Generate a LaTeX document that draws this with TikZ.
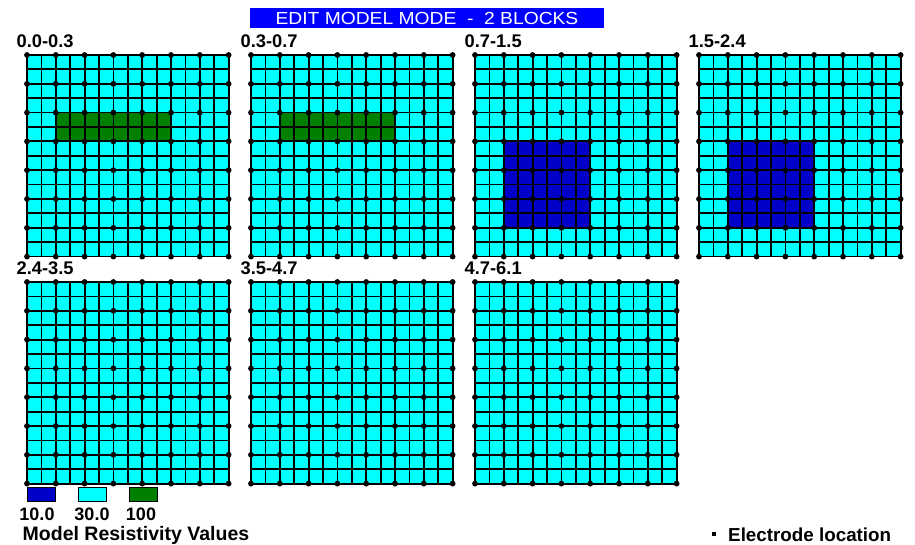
\documentclass[tikz,border=0pt]{standalone}
\usepackage{fontspec}
\setmainfont{Liberation Sans}
\definecolor{cellcyan}{RGB}{0,255,255}
\definecolor{blockgreen}{RGB}{0,128,0}
\definecolor{blockblue}{RGB}{0,0,200}
\definecolor{titleblue}{RGB}{0,0,255}
\tikzset{
  gridline/.style={black, line width=1.8pt, line cap=rect},
  paneltitle/.style={anchor=base west, inner sep=0pt, font=\fontsize{18.3}{20}\selectfont\bfseries},
  keybox/.style={draw=black, line width=0.8pt, minimum width=28pt, minimum height=14pt, inner sep=0pt},
  keytext/.style={anchor=base, inner sep=0pt, font=\fontsize{18}{20}\selectfont\bfseries},
}
\def\panellist{27/55/0.0-0.3, 251/55/0.3-0.7, 475/55/0.7-1.5, 699/55/1.5-2.4, 27/282/2.4-3.5, 251/282/3.5-4.7, 475/282/4.7-6.1}

\begin{document}
\begin{tikzpicture}[x=1pt, y=-1pt]
  \useasboundingbox (0,0) rectangle (915,545);
  % title bar
  \node[fill=titleblue, text=white, minimum width=354pt, minimum height=20pt, inner sep=0pt,
        font=\fontsize{17.5}{18}\selectfont] (title) at (427,18)
        {\scalebox{1.1}[1]{EDIT MODEL MODE\ \ -\ \ 2 BLOCKS}};
  % panels: background and depth labels
  \foreach \px/\py/\lbl [count=\n] in \panellist {
    \fill[cellcyan] (\px,\py) rectangle ++(201.6,201.6);
    \node[paneltitle] (depth\n) at (\px-10.5,\py-7.6) {\lbl};
  }
  % resistivity blocks
  \foreach \px in {27,251}
    \fill[blockgreen] (\px+28.8,55+57.6) rectangle ++(115.2,28.8);
  \foreach \px in {475,699}
    \fill[blockblue] (\px+28.8,55+86.4) rectangle ++(86.4,86.4);
  % mesh lines and electrodes
  \foreach \px/\py/\lbl in \panellist {
    \begin{scope}[shift={(\px,\py)}, x=14.4pt, y=-14.4pt]
      \foreach \i in {0,...,14} {
        \draw[gridline] (\i,0) -- (\i,14);
        \draw[gridline] (0,\i) -- (14,\i);
      }
      \foreach \i in {0,2,...,14}
        \foreach \j in {0,2,...,14}
          \fill (\i,\j) circle (2.9pt);
    \end{scope}
  }
  % legend
  \node[keybox, fill=blockblue] (key10) at (41,494) {};
  \node[keybox, fill=cellcyan] (key30) at (92,494) {};
  \node[keybox, fill=blockgreen] (key100) at (143.5,494) {};
  \node[keytext] (val10) at (37,520) {10.0};
  \node[keytext] (val30) at (92,520) {30.0};
  \node[keytext] (val100) at (141,520) {100};
  \node[anchor=base west, inner sep=0pt, font=\fontsize{19.5}{20}\selectfont\bfseries]
    (keyname) at (22.5,540.5) {Model Resistivity Values};
  % electrode marker
  \node[fill=black, minimum size=4pt, inner sep=0pt] (elecmark) at (713.5,534) {};
  \node[anchor=base west, inner sep=0pt, font=\fontsize{18.8}{20}\selectfont\bfseries]
    (electxt) at (728,541.5) {Electrode location};
\end{tikzpicture}
\end{document}
